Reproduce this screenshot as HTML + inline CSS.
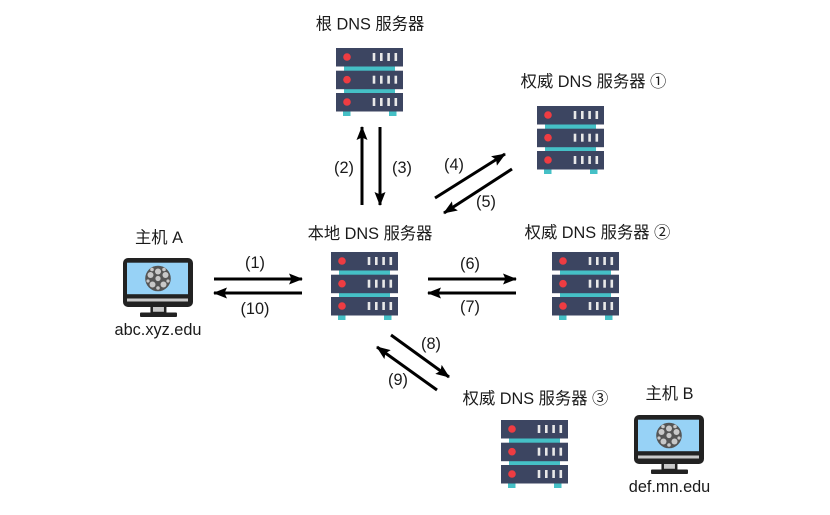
<!DOCTYPE html>
<html><head><meta charset="utf-8"><style>
html,body{margin:0;padding:0;background:#fff;width:830px;height:515px;overflow:hidden}
svg{display:block}
text{font-family:"Liberation Sans","Noto Sans CJK SC",sans-serif;font-size:16.3px;fill:#1a1a1a;text-anchor:middle}
tspan.c{font-family:"Noto Sans CJK SC",sans-serif}
</style></head><body>
<svg width="830" height="515" viewBox="0 0 830 515" xmlns="http://www.w3.org/2000/svg">
<defs>
<g id="srv">
<rect x="8" y="18" width="51" height="5" fill="#45c0c6"/>
<rect x="8" y="40" width="51" height="6" fill="#45c0c6"/>
<rect x="7" y="62" width="7.5" height="6" fill="#45c0c6"/>
<rect x="53" y="62" width="7.5" height="6" fill="#45c0c6"/>
<g id="row"><rect x="0" y="0" width="67" height="18.5" fill="#3c4561"/>
<circle cx="11" cy="9" r="3.8" fill="#ee3c42"/>
<rect x="36.7" y="5" width="2.6" height="8" fill="#e8e8e8"/><rect x="44" y="5" width="2.6" height="8" fill="#e8e8e8"/><rect x="51.3" y="5" width="2.6" height="8" fill="#e8e8e8"/><rect x="58.5" y="5" width="2.6" height="8" fill="#e8e8e8"/></g>
<use href="#row" y="22.7"/><use href="#row" y="45"/>
</g>
<g id="mon">
<rect x="28.7" y="47" width="13.5" height="8" fill="#c9c9c9" stroke="#222" stroke-width="2.5"/>
<rect x="17" y="54.5" width="37" height="4.5" rx="1" fill="#222"/>
<rect x="0" y="0" width="70" height="49" rx="5" fill="#222"/>
<rect x="4" y="4.7" width="61" height="31.5" fill="#97d2f6"/>
<rect x="4" y="40.5" width="61" height="3" fill="#c9c9c9"/>
<circle cx="35" cy="20.5" r="12.8" fill="#555"/>
<g fill="#c8c8c8"><circle cx="35" cy="20.5" r="2.6"/><circle cx="35" cy="13.5" r="3"/><circle cx="27.5" cy="17" r="3"/><circle cx="42.5" cy="17" r="3"/><circle cx="29.5" cy="26.5" r="3"/><circle cx="40.5" cy="26.5" r="3"/><circle cx="35" cy="30" r="1.8"/><circle cx="29" cy="11.5" r="1.8"/><circle cx="41" cy="11.5" r="1.8"/><circle cx="25" cy="23" r="1.6"/><circle cx="45" cy="23" r="1.6"/></g>
</g>
<marker id="a" markerUnits="userSpaceOnUse" markerWidth="14" markerHeight="12" refX="13" refY="6" orient="auto"><path d="M0 0.5L14 6L0 11.5L2.5 6Z" fill="#000"/></marker>
</defs>

<use href="#srv" x="336" y="48"/>
<use href="#srv" x="537" y="106"/>
<use href="#srv" x="331" y="252"/>
<use href="#srv" x="552" y="252"/>
<use href="#srv" x="501" y="420"/>
<use href="#mon" x="123" y="258"/>
<use href="#mon" x="634" y="415"/>

<g stroke="#000" stroke-width="3" fill="none">
<line x1="362" y1="205" x2="362" y2="127" marker-end="url(#a)"/>
<line x1="380" y1="127" x2="380" y2="205" marker-end="url(#a)"/>
<line x1="435" y1="198" x2="505" y2="154" marker-end="url(#a)"/>
<line x1="512" y1="169" x2="444" y2="213" marker-end="url(#a)"/>
<line x1="214" y1="279" x2="302" y2="279" marker-end="url(#a)"/>
<line x1="302" y1="293" x2="214" y2="293" marker-end="url(#a)"/>
<line x1="428" y1="279" x2="516" y2="279" marker-end="url(#a)"/>
<line x1="516" y1="293" x2="428" y2="293" marker-end="url(#a)"/>
<line x1="391" y1="335" x2="449" y2="377" marker-end="url(#a)"/>
<line x1="437" y1="390" x2="377" y2="347" marker-end="url(#a)"/>
</g>

<text x="370" y="29.5">根 DNS 服务器</text>
<text x="593.5" y="87">权威 DNS 服务器 <tspan class="c">①</tspan></text>
<text x="370" y="239">本地 DNS 服务器</text>
<text x="597.5" y="238">权威 DNS 服务器 <tspan class="c">②</tspan></text>
<text x="535.5" y="404">权威 DNS 服务器 <tspan class="c">③</tspan></text>
<text x="159" y="243">主机 A</text>
<text x="669.5" y="399">主机 B</text>
<text x="158" y="335">abc.xyz.edu</text>
<text x="669.5" y="492">def.mn.edu</text>
<text x="344" y="173">(2)</text>
<text x="402" y="173">(3)</text>
<text x="454" y="170">(4)</text>
<text x="486" y="207">(5)</text>
<text x="255" y="268">(1)</text>
<text x="255" y="314">(10)</text>
<text x="470" y="269">(6)</text>
<text x="470" y="312">(7)</text>
<text x="431" y="349">(8)</text>
<text x="398" y="385">(9)</text>
</svg>
</body></html>
